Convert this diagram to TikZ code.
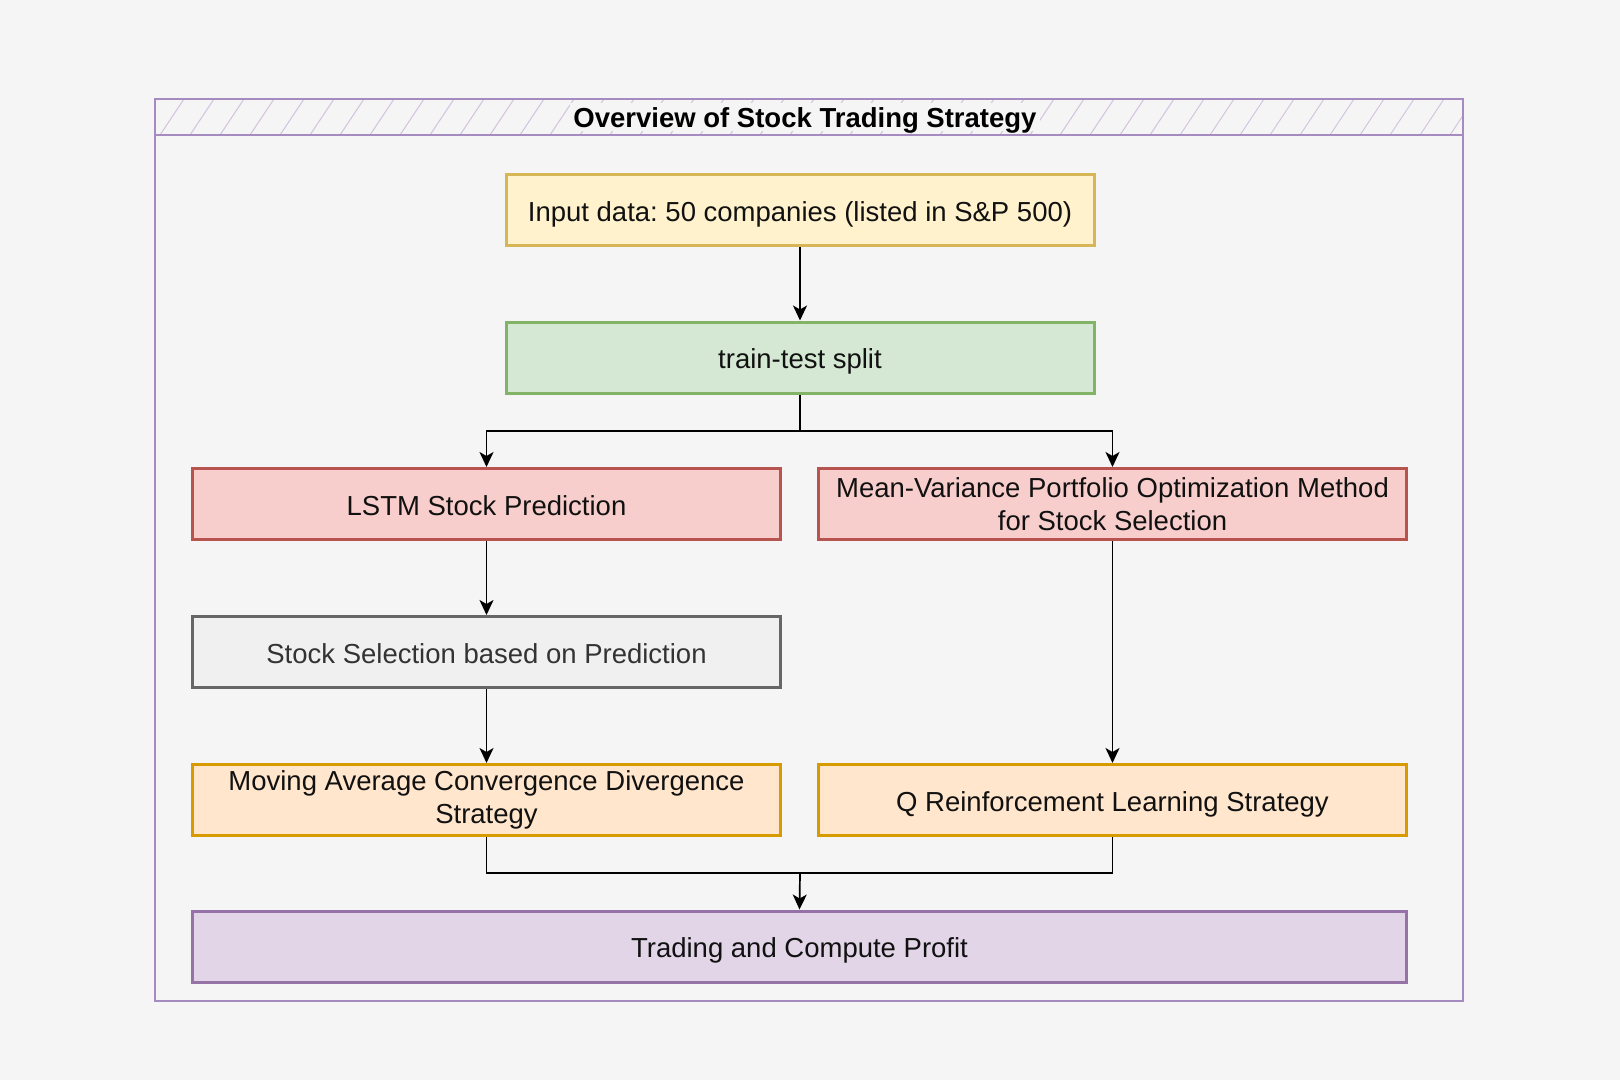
\documentclass[tikz,border=0pt]{standalone}
\usepackage{fontspec}
\setmainfont{Liberation Sans}
\usetikzlibrary{arrows.meta}
\frenchspacing
\definecolor{bg}{HTML}{F5F5F5}
\definecolor{txt}{HTML}{111111}
\definecolor{yfill}{HTML}{FFF2CC}\definecolor{ydraw}{HTML}{D6B656}
\definecolor{gfill}{HTML}{D5E8D4}\definecolor{gdraw}{HTML}{82B366}
\definecolor{rfill}{HTML}{F8CECC}\definecolor{rdraw}{HTML}{B85450}
\definecolor{sfill}{HTML}{F0F0F0}\definecolor{sdraw}{HTML}{666666}\definecolor{stxt}{HTML}{333333}
\definecolor{ofill}{HTML}{FFE6CC}\definecolor{odraw}{HTML}{D79B00}
\definecolor{pfill}{HTML}{E1D5E7}\definecolor{pdraw}{HTML}{9673A6}
\definecolor{frm}{HTML}{A68BC0}
\definecolor{hatchc}{HTML}{D2C4DE}
\begin{document}
\begin{tikzpicture}[x=1pt,y=-1pt,
  box/.style={draw, line width=3pt, minimum width=588pt, minimum height=71pt, inner sep=0pt, align=center, font=\fontsize{27.5}{33}\selectfont, text=txt},
  oneline/.style={text height=27pt, text depth=5pt},
  yellowbox/.style={box, fill=yfill, draw=ydraw},
  greenbox/.style={box, fill=gfill, draw=gdraw},
  redbox/.style={box, fill=rfill, draw=rdraw},
  greybox/.style={box, fill=sfill, draw=sdraw, text=stxt},
  orangebox/.style={box, fill=ofill, draw=odraw},
  purplebox/.style={box, fill=pfill, draw=pdraw},
  conn/.style={line width=1.7pt, -{Stealth[length=15pt,width=14pt,inset=4pt]}},
  plainline/.style={line width=1.7pt},
  frame/.style={draw=frm, line width=2pt},
  hatch/.style={draw=hatchc, line width=1pt}]
\fill[bg] (0,0) rectangle (1620,1080);
\useasboundingbox (0,0) rectangle (1620,1080);
% header hatching
\begin{scope}
\clip (155,99) rectangle (1463,135);
\foreach \x in {130,160,...,1500} \draw[hatch] (\x,135) -- (\x+24,99);
\end{scope}
\draw[frame] (155,99) rectangle (1463,1001);
\draw[frame] (155,135) -- (1463,135);
\node[fill=bg, inner xsep=3pt, inner ysep=0pt, text height=24pt, text depth=4pt, font=\fontsize{27.5}{33}\selectfont\bfseries, text=black] (title) at (805,117) {Overview of Stock Trading Strategy};
% nodes
\node[yellowbox, oneline] (in) at (800,210) {Input data: 50 companies (listed in S\&P 500)};
\node[greenbox, oneline] (split) at (800,357.5) {train-test split};
\node[redbox, oneline] (lstm) at (486.5,504) {LSTM Stock Prediction};
\node[redbox] (mv) at (1112.5,504) {Mean-Variance Portfolio Optimization Method\\for Stock Selection};
\node[greybox, oneline] (sel) at (486.5,652) {Stock Selection based on Prediction};
\node[orangebox] (macd) at (486.5,800) {Moving Average Convergence Divergence\\Strategy};
\node[orangebox, oneline] (q) at (1112.5,800) {Q Reinforcement Learning Strategy};
\node[purplebox, oneline, minimum width=1214pt] (trade) at (799.5,946.5) {Trading and Compute Profit};
% connectors
\draw[conn] (in) -- (split);
\coordinate (sp) at (800,431);
\draw[plainline] (split.south) -- (sp);
\draw[conn] (sp) -| (lstm.north);
\draw[conn] (sp) -| (mv.north);
\draw[conn] (lstm) -- (sel);
\draw[conn] (sel) -- (macd);
\draw[conn] (mv) -- (q);
\coordinate (mg) at (800,873);
\draw[plainline] (macd.south) |- (mg);
\draw[plainline] (q.south) |- (mg);
\draw[conn] (mg) -- (trade.north);
\end{tikzpicture}
\end{document}
